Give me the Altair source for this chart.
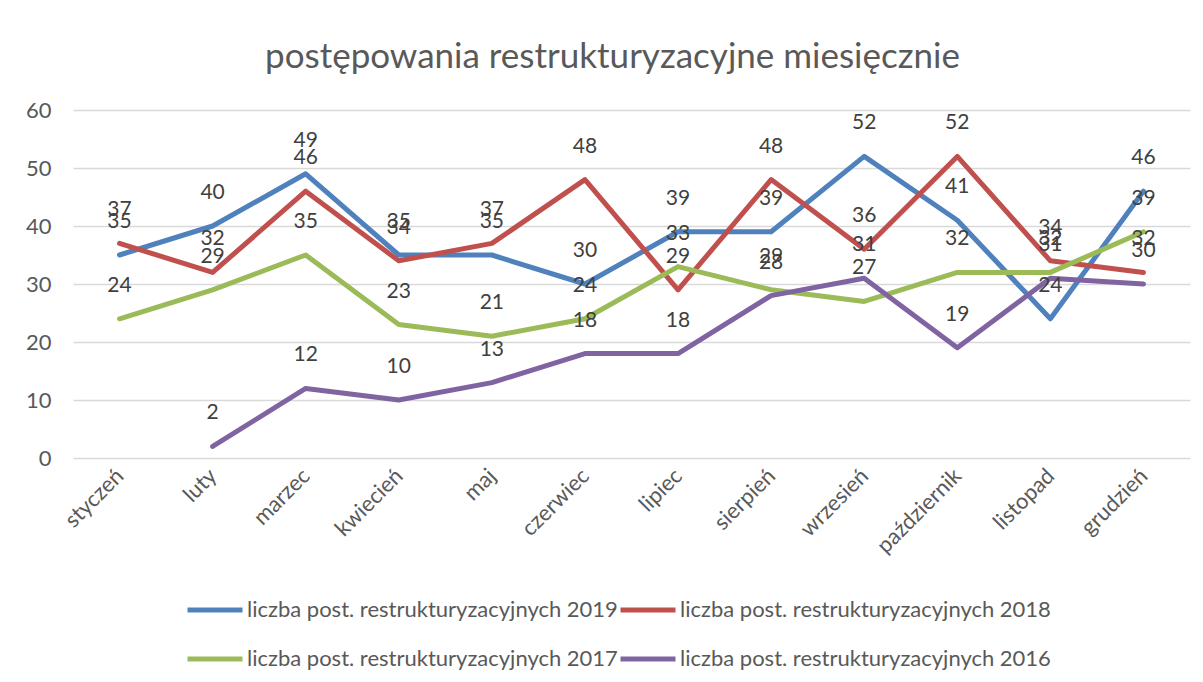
import altair as alt
import pandas as pd

months = ["styczeń", "luty", "marzec", "kwiecień", "maj", "czerwiec",
          "lipiec", "sierpień", "wrzesień", "październik", "listopad", "grudzień"]
series = ["liczba post. restrukturyzacyjnych 2019",
          "liczba post. restrukturyzacyjnych 2018",
          "liczba post. restrukturyzacyjnych 2017",
          "liczba post. restrukturyzacyjnych 2016"]
v2019 = [35, 40, 49, 35, 35, 30, 39, 39, 52, 41, 24, 46]
v2018 = [37, 32, 46, 34, 37, 48, 29, 48, 36, 52, 34, 32]
v2017 = [24, 29, 35, 23, 21, 24, 33, 29, 27, 32, 32, 39]
v2016 = [None, 2, 12, 10, 13, 18, 18, 28, 31, 19, 31, 30]
colors = ["#4F81BD", "#C0504D", "#9BBB59", "#8064A2"]
y_ticks = [0, 10, 20, 30, 40, 50, 60]

rows = []
for s, vals in zip(series, [v2019, v2018, v2017, v2016]):
    for m, v in zip(months, vals):
        if v is not None:
            rows.append({"miesiąc": m, "seria": s, "wartość": v})
df = pd.DataFrame(rows)

FONT = "Lato"
GREY = "#595959"

base = alt.Chart(df).encode(
    x=alt.X("miesiąc:N", sort=months,
            scale=alt.Scale(type="point", padding=0.5),
            axis=alt.Axis(title=None, labelAngle=-45, labelAlign="right",
                          labelBaseline="middle", labelPadding=14,
                          labelFontSize=22, labelColor=GREY, labelFont=FONT,
                          ticks=False, tickSize=0, domain=False, grid=False)),
    y=alt.Y("wartość:Q", scale=alt.Scale(domain=[0, 60], nice=False, zero=True),
            axis=alt.Axis(title=None, values=y_ticks, grid=True,
                          gridColor="#D9D9D9", gridWidth=1.5,
                          ticks=False, tickSize=0, domain=False,
                          labelPadding=22, labelFontSize=22,
                          labelColor=GREY, labelFont=FONT)),
)

lines = base.mark_line(strokeWidth=5, strokeCap="round", strokeJoin="round").encode(
    color=alt.Color("seria:N", sort=series,
                    scale=alt.Scale(domain=series, range=colors),
                    legend=alt.Legend(title=None, orient="none", legendX=112, legendY=470,
                                      columns=2, direction="horizontal",
                                      symbolType="stroke", symbolSize=3025,
                                      symbolStrokeWidth=5, labelFontSize=22,
                                      labelFont=FONT, labelColor=GREY, labelLimit=700,
                                      columnPadding=-9, rowPadding=8, labelOffset=2,
                                      padding=0))
)

labels = base.mark_text(dy=-33, fontSize=21, color="#404040", font=FONT).encode(
    text=alt.Text("wartość:Q")
)

chart = alt.layer(lines, labels).properties(
    width=1117, height=348,
    title=alt.TitleParams("postępowania restrukturyzacyjne miesięcznie",
                          fontSize=35, font=FONT, fontWeight="normal",
                          color=GREY, anchor="middle", dx=-19, offset=24),
    autosize=alt.AutoSizeParams(type="none"),
    padding={"left": 65, "top": 102, "right": 3, "bottom": 214},
    background="white",
).configure_view(stroke=None)

chart.save("out.html", embed_options={"renderer": "svg", "actions": False})
